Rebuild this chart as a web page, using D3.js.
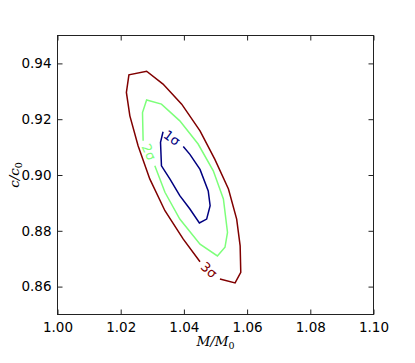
<!DOCTYPE html>
<html>
<head>
<meta charset="utf-8">
<script src="https://cdn.jsdelivr.net/npm/d3@7"></script>
<style>
  html, body { margin: 0; padding: 0; background: #fff; }
  svg { display: block; }
</style>
</head>
<body>
<svg id="chart" width="415" height="363"></svg>
<script>
// ---- data ----
const xTicks = [1.00, 1.02, 1.04, 1.06, 1.08, 1.10];
const yTicks = [0.86, 0.88, 0.90, 0.92, 0.94];
const xDomain = [1.00, 1.10];
const yDomain = [0.85, 0.95];

const sigmaLabels = ["1σ", "2σ", "3σ"];
const sigmaColors = ["#000080", "#7dff7a", "#800000"];

// 1σ contour (M/M0, c/c0)
const sigma1M = [1.0398, 1.0419, 1.0451, 1.0477, 1.0483, 1.0472, 1.0449, 1.0419, 1.0387, 1.0356, 1.0329, 1.0326, 1.0334];
const sigma1C = [0.9102, 0.9074, 0.9020, 0.8943, 0.8890, 0.8842, 0.8828, 0.8878, 0.8926, 0.8985, 0.9033, 0.9117, 0.9155];
// 2σ contour
const sigma2M = [1.0308, 1.0340, 1.0387, 1.0451, 1.0506, 1.0530, 1.0538, 1.0525, 1.0493, 1.0445, 1.0387, 1.0329, 1.0282, 1.0269, 1.0271];
const sigma2C = [0.9033, 0.8938, 0.8842, 0.8752, 0.8710, 0.8741, 0.8794, 0.8914, 0.9015, 0.9111, 0.9194, 0.9254, 0.9269, 0.9224, 0.9123];
// 3σ contour
const sigma3M = [1.0451, 1.0398, 1.0340, 1.0292, 1.0255, 1.0229, 1.0218, 1.0226, 1.0282, 1.0334, 1.0393, 1.0451, 1.0498, 1.0541, 1.0567, 1.0578, 1.0580, 1.0562, 1.0514];
const sigma3C = [0.8689, 0.8770, 0.8872, 0.8986, 0.9105, 0.9212, 0.9296, 0.9359, 0.9372, 0.9326, 0.9254, 0.9158, 0.9056, 0.8950, 0.8842, 0.8746, 0.8651, 0.8613, 0.8627];

// contour label anchors (M/M0, c/c0)
const labelM = [1.0362, 1.0289, 1.0479];
const labelC = [0.9133, 0.9082, 0.8659];

// ---- drawing ----
const svg = d3.select("#chart");
const margin = { left: 57.5, right: 415 - 373.5, top: 35.5, bottom: 363 - 314.5 };
const W = 415, H = 363;

const x = d3.scaleLinear().domain(xDomain).range([margin.left, W - margin.right]);
const y = d3.scaleLinear().domain(yDomain).range([H - margin.bottom, margin.top]);

const contours = [
  { m: sigma1M, c: sigma1C },
  { m: sigma2M, c: sigma2C },
  { m: sigma3M, c: sigma3C }
];

const line = d3.line().x(d => x(d[0])).y(d => y(d[1]));

contours.forEach((ct, i) => {
  const pts = ct.m.map((v, j) => [v, ct.c[j]]);
  svg.append("path")
    .attr("d", line(pts))
    .attr("fill", "none")
    .attr("stroke", sigmaColors[i])
    .attr("stroke-width", 1.5)
    .attr("stroke-linejoin", "miter");
});

// label rotations derived from adjacent contour endpoints (gap direction)
contours.forEach((ct, i) => {
  const n = ct.m.length;
  const ax = x(ct.m[0]), ay = y(ct.c[0]);
  const bx = x(ct.m[n - 1]), by = y(ct.c[n - 1]);
  let ang = Math.atan2(ay - by, ax - bx) * 180 / Math.PI;
  if (ang > 90) ang -= 180;
  if (ang < -90) ang += 180;
  const lx = x(labelM[i]), ly = y(labelC[i]);
  svg.append("text")
    .attr("x", 0).attr("y", 0)
    .attr("transform", `translate(${lx},${ly}) rotate(${ang})`)
    .attr("text-anchor", "middle")
    .attr("dominant-baseline", "central")
    .attr("font-family", "DejaVu Sans")
    .attr("font-size", 13)
    .attr("fill", sigmaColors[i])
    .text(sigmaLabels[i]);
});

// frame
const frameColor = "#222";
svg.append("rect")
  .attr("x", x(xDomain[0])).attr("y", y(yDomain[1]))
  .attr("width", x(xDomain[1]) - x(xDomain[0]))
  .attr("height", y(yDomain[0]) - y(yDomain[1]))
  .attr("fill", "none").attr("stroke", frameColor).attr("stroke-width", 1);

const tickLen = 5;
// axes with inward ticks
const axB = d3.axisBottom(x).tickValues(xTicks).tickFormat(d3.format(".2f")).tickSizeInner(-tickLen).tickSizeOuter(0).tickPadding(8);
const axT = d3.axisTop(x).tickValues(xTicks).tickFormat("").tickSizeInner(-tickLen).tickSizeOuter(0);
const axL = d3.axisLeft(y).tickValues(yTicks).tickFormat(d3.format(".2f")).tickSizeInner(-tickLen).tickSizeOuter(0).tickPadding(6);
const axR = d3.axisRight(y).tickValues(yTicks).tickFormat("").tickSizeInner(-tickLen).tickSizeOuter(0);

function styleAxis(g) {
  g.select(".domain").remove();
  g.selectAll(".tick line").attr("stroke", frameColor);
  g.selectAll(".tick text").attr("font-family", "DejaVu Sans").attr("font-size", 13.5).attr("fill", "#000");
}
svg.append("g").attr("transform", `translate(0,${y(yDomain[0])})`).call(axB).call(styleAxis);
svg.append("g").attr("transform", `translate(0,${y(yDomain[1])})`).call(axT).call(styleAxis);
svg.append("g").attr("transform", `translate(${x(xDomain[0])},0)`).call(axL).call(styleAxis);
svg.append("g").attr("transform", `translate(${x(xDomain[1])},0)`).call(axR).call(styleAxis);

// axis titles
const xl = svg.append("text")
  .attr("x", (x(xDomain[0]) + x(xDomain[1])) / 2)
  .attr("y", 346)
  .attr("text-anchor", "middle")
  .attr("font-family", "DejaVu Serif")
  .attr("font-style", "italic")
  .attr("font-size", 13.5);
xl.append("tspan").text("M/M");
xl.append("tspan").attr("font-size", 9.5).attr("font-style", "normal").attr("dy", 3).text("0");

const yl = svg.append("text")
  .attr("transform", `translate(19,${(y(yDomain[0]) + y(yDomain[1])) / 2}) rotate(-90)`)
  .attr("text-anchor", "middle")
  .attr("font-family", "DejaVu Serif")
  .attr("font-style", "italic")
  .attr("font-size", 13.5);
yl.append("tspan").text("c/c");
yl.append("tspan").attr("font-size", 9.5).attr("font-style", "normal").attr("dy", 3).text("0");
</script>
</body>
</html>
